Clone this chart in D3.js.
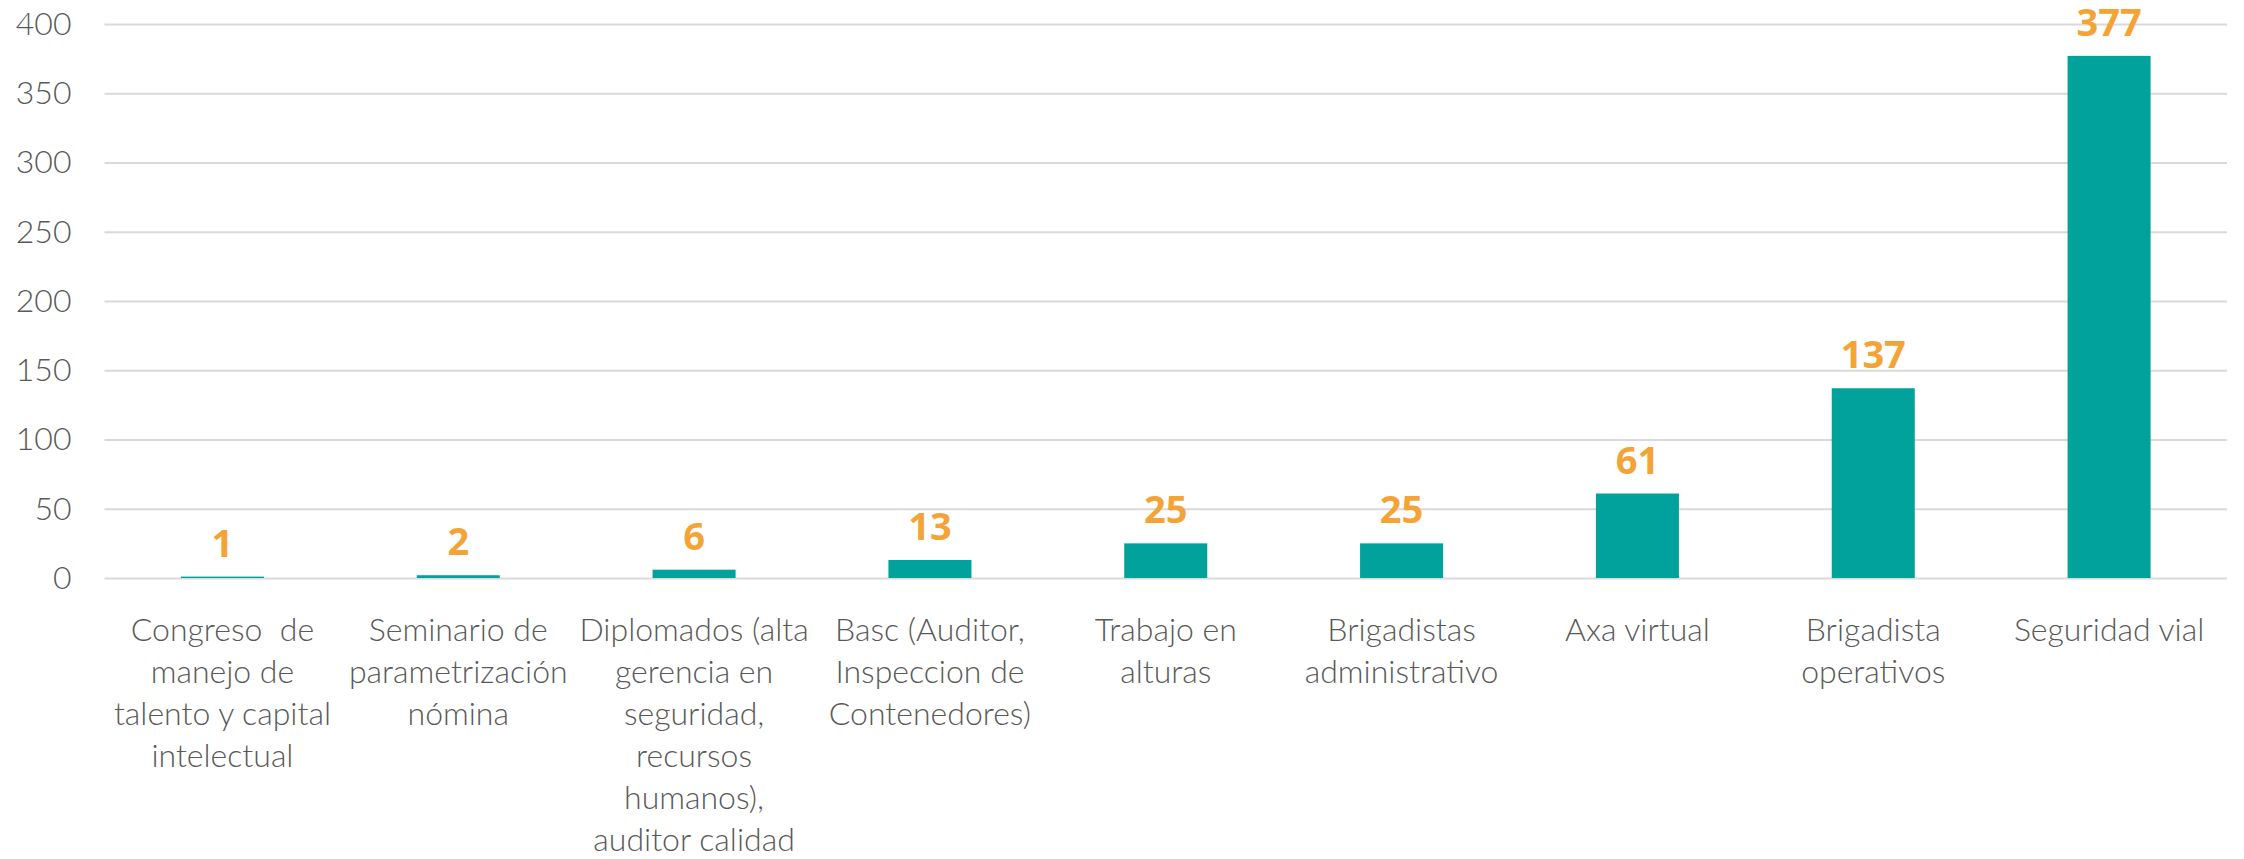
<!DOCTYPE html>
<html>
<head>
<meta charset="utf-8">
<script src="https://cdn.jsdelivr.net/npm/d3@7"></script>
<style>
  html, body { margin: 0; padding: 0; background: #fff; }
  svg { display: block; }
  .cat text, .cat tspan { white-space: pre; }
</style>
</head>
<body>
<svg id="chart" width="2244" height="859"></svg>
<script>
// ---- data ----
const categories = [
  ["Congreso  de", "manejo de", "talento y capital", "intelectual"],
  ["Seminario de", "parametrización", "nómina"],
  ["Diplomados (alta", "gerencia en", "seguridad,", "recursos", "humanos),", "auditor calidad"],
  ["Basc (Auditor,", "Inspeccion de", "Contenedores)"],
  ["Trabajo en", "alturas"],
  ["Brigadistas", "administrativo"],
  ["Axa virtual"],
  ["Brigadista", "operativos"],
  ["Seguridad vial"]
];
const values = [1, 2, 6, 13, 25, 25, 61, 137, 377];
const yTicks = [0, 50, 100, 150, 200, 250, 300, 350, 400];

// ---- layout ----
const svg = d3.select("#chart");
const plotLeft = 104.5, plotRight = 2227, plotTop = 24, plotBottom = 578;
const keys = categories.map((c, i) => i);

const x = d3.scaleBand().domain(keys).range([plotLeft, plotRight])
  .paddingInner(0.648).paddingOuter(0.324);
const y = d3.scaleLinear().domain([0, 400]).range([plotBottom, plotTop]);

// gridlines + y labels
const yAxis = svg.append("g")
  .attr("transform", `translate(${plotLeft},0)`)
  .call(d3.axisLeft(y).tickValues(yTicks).tickSize(-(plotRight - plotLeft)).tickPadding(33));
yAxis.select(".domain").remove();
yAxis.selectAll(".tick line").attr("stroke", "#d9d9d9").attr("stroke-width", 2);
yAxis.selectAll(".tick text")
  .attr("fill", "#595959")
  .style("font-family", "Lato, 'Open Sans', sans-serif")
  .style("font-weight", 300)
  .style("font-size", "32px");

// bars
svg.append("g").selectAll("rect").data(values).join("rect")
  .attr("x", (d, i) => x(i))
  .attr("y", d => y(d))
  .attr("width", x.bandwidth())
  .attr("height", d => y(0) - y(d))
  .attr("fill", "#00a29b");

// value labels
svg.append("g").selectAll("text").data(values).join("text")
  .attr("x", (d, i) => x(i) + x.bandwidth() / 2)
  .attr("y", d => y(d) - 20)
  .attr("text-anchor", "middle")
  .attr("fill", "#f4a436")
  .style("font-family", "'Open Sans', Lato, sans-serif")
  .style("font-weight", 700)
  .style("font-size", "38px")
  .text(d => d);

// category labels
const cat = svg.append("g").attr("class", "cat");
categories.forEach((lines, i) => {
  const t = cat.append("text")
    .attr("text-anchor", "middle")
    .attr("fill", "#595959")
    .style("font-family", "Lato, 'Open Sans', sans-serif")
    .style("font-weight", 300)
    .style("font-size", "32px");
  lines.forEach((ln, j) => {
    t.append("tspan")
      .attr("x", x(i) + x.bandwidth() / 2)
      .attr("y", 641 + j * 42)
      .text(ln);
  });
});
</script>
</body>
</html>
